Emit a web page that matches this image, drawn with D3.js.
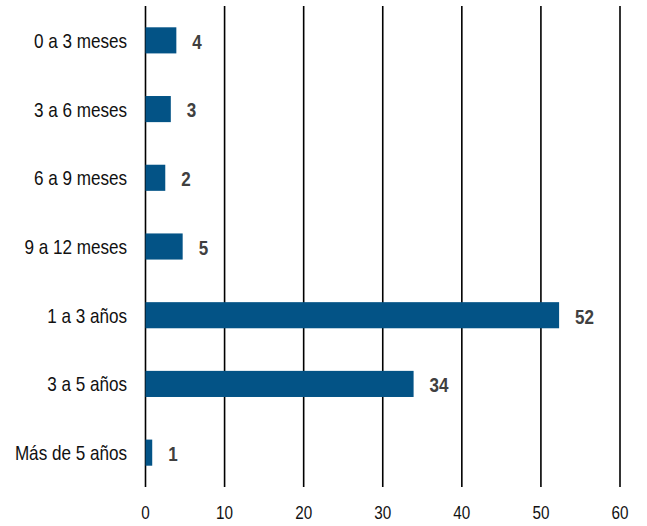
<!DOCTYPE html>
<html lang="es">
<head>
<meta charset="utf-8"/>
<style>
    body { margin: 0; background: #fff; }
    svg { display: block; }
    text { font-family: "Liberation Sans", Arial, sans-serif; }
    .cat { font-size: 20.6px; fill: #111; }
    .tick-label { font-size: 18.4px; fill: #111; }
    .val { font-size: 20.5px; font-weight: bold; fill: #404040; }
    line.grid { stroke: #000; stroke-width: 1.6px; }
</style>
<script src="https://cdn.jsdelivr.net/npm/d3@7"></script>
</head>
<body>
<svg id="chart" width="647" height="526"></svg>
<script>
    var categories = ['0 a 3 meses', '3 a 6 meses', '6 a 9 meses', '9 a 12 meses',
                      '1 a 3 años', '3 a 5 años', 'Más de 5 años'];
    var values = [3.9, 3.2, 2.5, 4.7, 52.3, 33.9, 0.85];
    var labels = ['4', '3', '2', '5', '52', '34', '1'];
    var ticks = [0, 10, 20, 30, 40, 50, 60];

    var svg = d3.select('#chart');
    var plotTop = 6, plotBottom = 487, plotLeft = 145.5, plotRight = 620;
    var narrow = 0.83;   // no Arial Narrow here, so squeeze Liberation Sans

    function place(px, py) {
        return 'translate(' + px + ',' + py + ') scale(' + narrow + ',1)';
    }

    var x = d3.scaleLinear().domain([0, 60]).range([plotLeft, plotRight]);
    var y = d3.scaleBand().domain(categories).range([plotTop, plotBottom])
        .paddingInner(0.62).paddingOuter(0.31);

    // vertical gridlines
    svg.selectAll('line.grid')
        .data(ticks)
        .enter().append('line')
        .classed('grid', true)
        .attr('x1', function(d) { return x(d); })
        .attr('x2', function(d) { return x(d); })
        .attr('y1', plotTop)
        .attr('y2', plotBottom);

    svg.selectAll('text.tick-label')
        .data(ticks)
        .enter().append('text')
        .classed('tick-label', true)
        .attr('transform', function(d) { return place(x(d), 519); })
        .attr('text-anchor', 'middle')
        .text(function(d) { return d; });

    svg.selectAll('rect.bar')
        .data(values)
        .enter().append('rect')
        .classed('bar', true)
        .attr('x', x(0))
        .attr('y', function(d, i) { return y(categories[i]); })
        .attr('width', function(d) { return x(d) - x(0); })
        .attr('height', y.bandwidth())
        .attr('fill', '#035386');

    svg.selectAll('text.cat')
        .data(categories)
        .enter().append('text')
        .classed('cat', true)
        .attr('transform', function(d) { return place(127, y(d) + y.bandwidth() / 2); })
        .attr('dy', '0.36em')
        .attr('text-anchor', 'end')
        .text(function(d) { return d; });

    svg.selectAll('text.val')
        .data(values)
        .enter().append('text')
        .classed('val', true)
        .attr('transform', function(d, i) {
            return place(x(d) + 16, y(categories[i]) + y.bandwidth() / 2 + 1);
        })
        .attr('dy', '0.36em')
        .text(function(d, i) { return labels[i]; });
</script>
</body>
</html>
